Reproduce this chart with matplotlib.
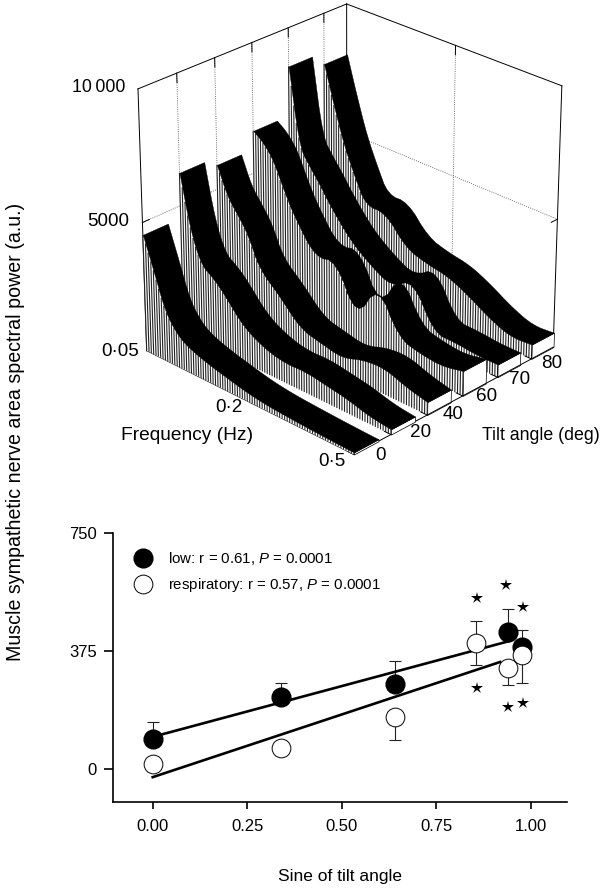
import numpy as np
import matplotlib
matplotlib.use('Agg')
import matplotlib.pyplot as plt
from mpl_toolkits.mplot3d.art3d import Poly3DCollection, Line3DCollection

plt.rcParams['font.family'] = ['Liberation Sans', 'DejaVu Sans']
plt.rcParams['mathtext.fontset'] = 'custom'
plt.rcParams['mathtext.rm'] = 'Liberation Sans'
plt.rcParams['mathtext.it'] = 'Liberation Sans:italic'

# spectra, top panel
freq = [0.05, 0.059, 0.069, 0.08, 0.093, 0.12, 0.153, 0.191, 0.237, 0.289, 0.35, 0.42, 0.5]
tilt_labels = ['0', '20', '40', '60', '70', '80']
power_0 = [4530, 3300, 1980, 1350, 1000, 720, 520, 330, 220, 170, 130, 100, 80]
power_20 = [6260, 4150, 3050, 2800, 2400, 1430, 970, 770, 820, 680, 540, 300, 200]
power_40 = [5940, 4880, 4340, 3740, 2620, 1920, 1020, 830, 640, 960, 1020, 700, 500]
power_60 = [6640, 6350, 5810, 4830, 3960, 2760, 3000, 1100, 2800, 1100, 880, 780, 970]
power_70 = [8530, 5590, 4980, 4440, 3770, 2760, 2120, 1670, 2300, 600, 600, 500, 500]
power_80 = [8050, 6540, 5160, 4160, 3170, 3220, 2180, 1920, 1780, 1380, 860, 500, 570]
spectra = [power_0, power_20, power_40, power_60, power_70, power_80]

# regression, bottom panel
sine_low = [0.0, 0.34, 0.64, 0.94, 0.976]
low = [95, 228, 269, 436, 389]
low_err = [53, 46, 75, 72, 53]
sine_resp = [0.0, 0.34, 0.64, 0.855, 0.94, 0.976]
resp = [15, 68, 166, 399, 322, 362]
resp_lo = [0, 0, 74, 69, 55, 90]
resp_hi = [0, 0, 0, 70, 0, 0]
fit_low_x = [0.0, 0.945]
fit_low_y = [102, 407]
fit_resp_x = [0.0, 0.919]
fit_resp_y = [-26, 340]
star_x = [0.857, 0.935, 0.979, 0.857, 0.941, 0.979]
star_y = [542, 585, 516, 256, 198, 209]

W, H = 616, 893
fig = plt.figure(figsize=(W / 100, H / 100), dpi=100)


def ftext(x, y, s, **kw):
    kw.setdefault('fontsize', 13.6)
    kw.setdefault('ha', 'center')
    kw.setdefault('va', 'center')
    fig.text(x / W, 1 - y / H, s, **kw)


def fpos(f):
    # the frequency axis of the figure is log-like, stretched at the high end
    t = np.log10(np.asarray(f, float) / 0.05)
    return 0.658 * t + 0.342 * t ** 2


# top panel
size = 491
ax3 = fig.add_axes([98 / W, 1 - 473 / H, size / W, size / H], projection='3d')
ax3.computed_zorder = False
ax3.set_proj_type('persp', focal_length=1.2)
ax3.view_init(elev=27, azim=-46)
ax3.set_box_aspect((1, 1, 1.0), zoom=1.005)
ax3.set_axis_off()
ax3.patch.set_alpha(0)

xmin, xmax = 0.0, 1.0
ymax = 5.65
ax3.set_xlim(xmin, xmax, view_margin=0)
ax3.set_ylim(0, ymax, view_margin=0)
ax3.set_zlim(0, 10000, view_margin=0)


def edge(a, b, z=1, **kw):
    kw.setdefault('color', 'black')
    kw.setdefault('lw', 0.7)
    ax3.plot([a[0], b[0]], [a[1], b[1]], [a[2], b[2]], zorder=z, **kw)


zt = 10000
edge((xmin, 0, 0), (xmin, 0, zt))
edge((xmin, ymax, 0), (xmin, ymax, zt))
edge((xmax, ymax, 0), (xmax, ymax, zt))
edge((xmin, 0, zt), (xmin, ymax, zt))
edge((xmin, ymax, zt), (xmax, ymax, zt))
edge((xmin, 0, 0), (xmin, ymax, 0))
edge((xmin, ymax, 0), (xmax, ymax, 0))
edge((xmin, 0, 0), (xmax, 0, 0), z=50)
edge((xmax, 0, 0), (xmax, ymax, 0), z=50)

# dotted grid on the back walls
for i in range(1, 6):
    edge((xmin, i, 0), (xmin, i, zt), ls=':', lw=0.6, color='#444444')
    edge((xmin, i, zt), (xmin, i, zt - 350), lw=0.7)
fx = float(fpos(0.2))
edge((fx, ymax, 0), (fx, ymax, zt), ls=':', lw=0.6, color='#444444')
edge((fx, ymax, zt), (fx, ymax, zt - 350), lw=0.7)
edge((xmin, 0, 5000), (xmin, ymax, 5000), ls=':', lw=0.6, color='#444444')
edge((xmin, ymax, 5000), (xmax, ymax, 5000), ls=':', lw=0.6, color='#444444')
edge((xmin, 0, 5000), (xmin, 0.18, 5000))
edge((xmax, ymax, 5000), (xmax, ymax - 0.18, 5000))

freq_pos = fpos(freq)
ribbon = 0.66


def smooth(x, z, n=2):
    # corner cutting so the read-off curve is not angular
    x, z = np.asarray(x, float), np.asarray(z, float)
    for _ in range(n):
        xn = np.column_stack([0.75 * x[:-1] + 0.25 * x[1:], 0.25 * x[:-1] + 0.75 * x[1:]]).ravel()
        zn = np.column_stack([0.75 * z[:-1] + 0.25 * z[1:], 0.25 * z[:-1] + 0.75 * z[1:]]).ravel()
        x = np.r_[x[0], xn, x[-1]]
        z = np.r_[z[0], zn, z[-1]]
    return x, z


for i in range(5, -1, -1):
    base_z = 10 + (5 - i) * 10
    xs, zs = smooth(freq_pos, spectra[i])
    # front wall, white with dense vertical lines
    wall = [(xs[0], i, 0)] + list(zip(xs, [i] * len(xs), zs)) + [(xs[-1], i, 0)]
    ax3.add_collection3d(Poly3DCollection([wall], facecolors='white', edgecolors='none', zorder=base_z))
    hx = np.linspace(xmin, xmax, 85)
    hz = np.interp(hx, xs, zs)
    segs = [[(a, i, 0), (a, i, b)] for a, b in zip(hx, hz)]
    ax3.add_collection3d(Line3DCollection(segs, colors='#222222', linewidths=0.8, zorder=base_z + 1))
    # end cap
    cap = [(xmax, i, 0), (xmax, i + ribbon, 0), (xmax, i + ribbon, zs[-1]), (xmax, i, zs[-1])]
    ax3.add_collection3d(Poly3DCollection([cap], facecolors='white', edgecolors='black', linewidths=0.5, zorder=base_z + 2))
    # black ribbon
    top = list(zip(xs, [i] * len(xs), zs)) + list(zip(xs[::-1], [i + ribbon] * len(xs), zs[::-1]))
    ax3.add_collection3d(Poly3DCollection([top], facecolors='black', edgecolors='black', linewidths=0.3, zorder=base_z + 3))

edge((fx, 0, 0), (fx, 0.14, 0), z=50)
for i in range(6):
    edge((xmax, i, 0), (xmax - 0.03, i, 0), z=50)

ftext(99, 88, '10\u2009000', fontsize=12.8)
ftext(108, 221, '5000')
ftext(120, 352, '0\u00b705')
ftext(229, 408, '0\u00b72')
ftext(332, 461, '0\u00b75')
ftext(187, 436, 'Frequency (Hz)', fontsize=13.8)
ftext(541, 436, 'Tilt angle (deg)', fontsize=12.8)
for lab, px, py in zip(tilt_labels, [380, 421, 453, 487, 520, 552], [456, 433, 414, 396, 379, 363]):
    ftext(px, py, lab)

ftext(16, 432, 'Muscle sympathetic nerve area spectral power (a.u.)', rotation=90, fontsize=14.1)

# bottom panel
ax = fig.add_axes([113 / W, 1 - 802 / H, 454 / W, 269 / H])
ax.set_xlim(-0.105, 1.096)
ax.set_ylim(-105, 750)
for s in ['top', 'right']:
    ax.spines[s].set_visible(False)
for s in ['left', 'bottom']:
    ax.spines[s].set_linewidth(1.2)
ax.set_xticks([0, 0.25, 0.5, 0.75, 1.0])
ax.set_xticklabels(['0.00', '0.25', '0.50', '0.75', '1.00'])
ax.set_yticks([0, 375, 750])
ax.tick_params(axis='x', length=5, width=1.2, labelsize=12, pad=7)
ax.tick_params(axis='y', length=6.5, width=1.2, labelsize=12, pad=5)

ax.plot(fit_low_x, fit_low_y, color='black', lw=1.9, zorder=2)
ax.plot(fit_resp_x, fit_resp_y, color='black', lw=1.9, zorder=2)
ax.errorbar(sine_low, low, yerr=[[0] * len(low), low_err], fmt='none', ecolor='#222222',
            elinewidth=0.8, capsize=4, capthick=0.8, zorder=1)
ax.errorbar(sine_resp, resp, yerr=[resp_lo, resp_hi], fmt='none', ecolor='#222222',
            elinewidth=0.8, capsize=4, capthick=0.8, zorder=1)
h1, = ax.plot(sine_low, low, 'o', color='black', ms=13.5, zorder=3,
              label='low: r = 0.61, $\\mathit{P}$ = 0.0001')
h2, = ax.plot(sine_resp, resp, 'o', mfc='white', mec='black', mew=0.7, ms=13.5, zorder=4,
              label='respiratory: r = 0.57, $\\mathit{P}$ = 0.0001')
ax.plot(star_x, star_y, '*', color='black', ms=9, mew=0, zorder=5)
ax.legend(handles=[h1, h2], loc='upper left', bbox_to_anchor=(0.033, 0.937), frameon=False, fontsize=10.8,
          numpoints=1, handletextpad=0.67, labelspacing=0.6, borderaxespad=0, borderpad=0)

ftext(340, 877, 'Sine of tilt angle', fontsize=12.5)

fig.savefig('out.png', dpi=100)
